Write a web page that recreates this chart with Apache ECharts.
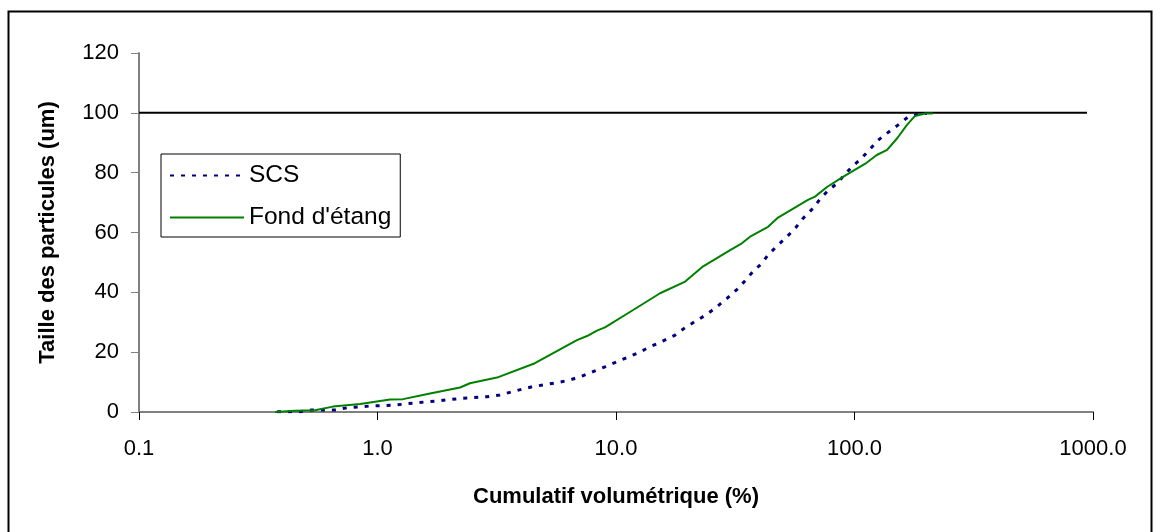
<!DOCTYPE html>
<html>
<head>
<meta charset="utf-8">
<script src="https://cdn.jsdelivr.net/npm/echarts@6/dist/echarts.min.js"></script>
<style>
  html, body { margin: 0; padding: 0; background: #ffffff; }
  #chart { width: 1161px; height: 532px; }
</style>
</head>
<body>
<div id="chart"></div>
<script>
// Cumulative volume (%) vs particle size (um)
const scsX = [0.379, 0.473, 0.531, 0.664, 0.745, 0.93, 1.18, 1.46, 1.83, 2.28, 2.88, 3.26, 4.03, 4.49, 5.66, 6.41, 7.2, 8.01, 8.99, 10.1, 12.4, 13.9, 15.7, 17.7, 19.5, 21.4, 24.1, 26.5, 29.2, 32.2, 34.7, 37.5, 40.9, 43.4, 47.8, 52.1, 56.4, 60.8, 67.0, 71.6, 77.4, 84.5, 91.2, 98.6, 107, 116, 125, 138, 152, 167, 186, 201];
const scsY = [0.1, 0.1, 0.7, 0.7, 1.4, 2.0, 2.3, 3.1, 3.8, 4.6, 5.1, 5.7, 7.6, 8.5, 9.8, 10.7, 12.0, 13.5, 15.1, 16.8, 19.8, 21.8, 23.7, 25.7, 28.2, 30.2, 32.7, 35.2, 38.0, 41.0, 43.8, 46.9, 49.7, 52.5, 55.8, 58.6, 61.4, 64.7, 68.1, 71.1, 74.0, 76.4, 79.5, 82.3, 84.8, 87.8, 90.7, 93.4, 95.9, 98.5, 99.6, 99.8];

const fondX = [0.372, 0.451, 0.547, 0.65, 0.845, 1.13, 1.28, 1.66, 2.22, 2.44, 3.17, 4.57, 5.55, 6.86, 7.56, 8.32, 8.99, 11.8, 15.3, 19.5, 23.2, 30.1, 33.7, 36.5, 43.4, 47.8, 63.8, 68.3, 76.7, 89.5, 111, 124, 137, 151, 166, 179, 198, 213];
const fondY = [0.0, 0.4, 0.6, 1.8, 2.7, 4.2, 4.3, 6.2, 8.2, 9.6, 11.5, 16.3, 20.0, 24.0, 25.4, 27.2, 28.3, 34.1, 39.7, 43.6, 48.7, 54.1, 56.4, 58.6, 61.9, 65.0, 70.9, 72.0, 75.2, 78.6, 83.0, 85.9, 87.6, 91.5, 96.0, 98.9, 99.8, 99.8];

// 100 um reference line
const refX = [0.1, 944];
const refY = [100, 100];

const xTickValues = [0.1, 1, 10, 100, 1000];
const xTickLabels = ['0.1', '1.0', '10.0', '100.0', '1000.0'];

const seriesNames = ['SCS', "Fond d'étang"];

const zip = (xs, ys) => xs.map((x, i) => [x, ys[i]]);

const FONT = 'Liberation Sans, Arial, sans-serif';

const chart = echarts.init(document.getElementById('chart'), null, { renderer: 'canvas' });

chart.setOption({
  animation: false,
  backgroundColor: '#ffffff',
  grid: { left: 139, right: 68, top: 53, bottom: 120, containLabel: false },
  graphic: [{
    type: 'rect',
    shape: { x: 8.5, y: 11.5, width: 1143, height: 600 },
    style: { fill: 'none', stroke: '#000000', lineWidth: 2 },
    silent: true,
    z: 0
  }],
  legend: {
    data: seriesNames,
    orient: 'vertical',
    left: 161,
    top: 154,
    padding: [9, 9, 7, 8],
    itemGap: 17,
    itemWidth: 74,
    itemHeight: 14,
    borderColor: '#000000',
    borderWidth: 1,
    backgroundColor: '#ffffff',
    itemStyle: { opacity: 0, color: 'transparent', borderWidth: 0 },
    textStyle: { fontFamily: FONT, fontSize: 24.5, color: '#000000', padding: [0, 0, 0, 0] }
  },
  xAxis: {
    type: 'log',
    logBase: 10,
    min: 0.1,
    max: 1000,
    name: 'Cumulatif volumétrique (%)',
    nameLocation: 'middle',
    nameGap: 74,
    nameTextStyle: { fontFamily: FONT, fontSize: 22, fontWeight: 'bold', color: '#000000' },
    axisLine: { show: true, lineStyle: { color: '#808080', width: 2 } },
    axisTick: { show: true, inside: false, length: 8, lineStyle: { color: '#000000', width: 1 } },
    minorTick: { show: false },
    splitLine: { show: false },
    axisLabel: {
      margin: 26,
      fontFamily: FONT,
      fontSize: 22,
      color: '#000000',
      formatter: function (v) {
        const idx = xTickValues.findIndex(t => Math.abs(Math.log10(t) - Math.log10(v)) < 1e-6);
        return idx >= 0 ? xTickLabels[idx] : '';
      }
    }
  },
  yAxis: {
    type: 'value',
    min: 0,
    max: 120,
    interval: 20,
    name: 'Taille des particules (um)',
    nameLocation: 'middle',
    nameGap: 80,
    nameTextStyle: { fontFamily: FONT, fontSize: 22, fontWeight: 'bold', color: '#000000' },
    axisLine: { show: true, lineStyle: { color: '#808080', width: 2 } },
    axisTick: { show: true, inside: false, length: 8, lineStyle: { color: '#808080', width: 1 } },
    splitLine: { show: false },
    axisLabel: { margin: 20, fontFamily: FONT, fontSize: 22, color: '#000000' }
  },
  series: [
    {
      name: 'SCS',
      type: 'line',
      data: zip(scsX, scsY),
      showSymbol: false,
      symbol: 'none',
      smooth: false,
      lineStyle: { color: '#000080', width: 3, type: [4, 7] },
      itemStyle: { color: '#000080' },
      z: 3
    },
    {
      name: "Fond d'étang",
      type: 'line',
      data: zip(fondX, fondY),
      showSymbol: false,
      symbol: 'none',
      smooth: false,
      lineStyle: { color: '#008000', width: 2 },
      itemStyle: { color: '#008000' },
      z: 4
    },
    {
      name: 'ref100',
      type: 'line',
      data: zip(refX, refY),
      showSymbol: false,
      symbol: 'none',
      lineStyle: { color: '#000000', width: 2 },
      itemStyle: { color: '#000000' },
      z: 2
    }
  ]
});
</script>
</body>
</html>
